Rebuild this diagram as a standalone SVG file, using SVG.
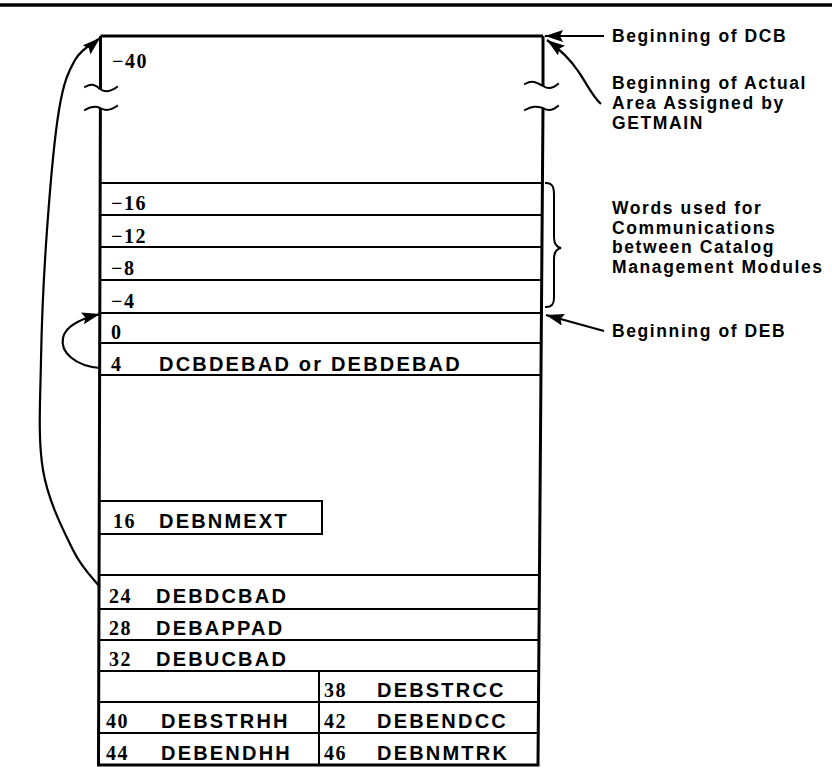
<svg xmlns="http://www.w3.org/2000/svg" width="832" height="775" viewBox="0 0 832 775">
<defs>
<style>
.ln{stroke:#000;stroke-width:2;fill:none;stroke-linecap:square}
.ob{stroke:#000;stroke-width:3;fill:none}
.cn{stroke:#000;stroke-width:2.2;fill:none}
.num{font-family:"Liberation Serif","Times New Roman",serif;font-weight:bold;font-size:20px;letter-spacing:1.5px;fill:#000}
.fld{font-family:"Liberation Sans",Arial,sans-serif;font-weight:bold;font-size:20px;letter-spacing:2.2px;fill:#000}
.lbl{font-family:"Liberation Sans",Arial,sans-serif;font-weight:bold;font-size:17.5px;letter-spacing:1.6px;fill:#000}
</style>
<marker id="ah" viewBox="0 0 18 12" refX="18" refY="6" markerWidth="18" markerHeight="12" markerUnits="userSpaceOnUse" orient="auto">
<path d="M0,0 L18,6 L0,12 L3,6 z" fill="#000"/>
</marker>
</defs>
<rect width="832" height="775" fill="#fff"/>
<line x1="0" y1="5" x2="832" y2="5" stroke="#000" stroke-width="3.5"/>

<g id="dcb-area">
<path class="ob" d="M100.5,36 L543,36"/>
<path class="ob" d="M100.5,36 L100.5,89"/>
<path class="ob" d="M543,36 L543,86"/>
<path class="ln" d="M85,87 C92,83 96,85 100,89 C105,93 110,92 117,87"/>
<path class="ln" d="M85,110 C92,106 96,106 100,108 C105,111 110,111 117,106"/>
<path class="ln" d="M525,84 C532,80 536,82 543,86 C548,89 552,89 558,84"/>
<path class="ln" d="M525,110 C532,106 536,106 543,108 C548,111 552,111 558,106"/>
<path class="ob" d="M100.4,108 L98.5,765 L538,765 L543,108"/>
<text class="num" x="112" y="68">−40</text>
</g>

<g id="comm-words">
<line class="ln" x1="100" y1="183" x2="542" y2="183"/>
<line class="ln" x1="100" y1="215" x2="541.8" y2="215"/>
<line class="ln" x1="100" y1="247" x2="541.6" y2="247"/>
<line class="ln" x1="100" y1="280" x2="541.3" y2="280"/>
<text class="num" x="111" y="210">−16</text>
<text class="num" x="111" y="243">−12</text>
<text class="num" x="111" y="275">−8</text>
<text class="num" x="111" y="308">−4</text>
</g>

<g id="deb-0">
<line class="ln" x1="99.7" y1="313" x2="541.1" y2="313"/>
<text class="num" x="111" y="339">0</text>
</g>
<g id="deb-4">
<line class="ln" x1="99.7" y1="343" x2="540.9" y2="343"/>
<line class="ln" x1="99.6" y1="375" x2="540.7" y2="375"/>
<text class="num" x="111" y="371">4</text>
<text class="fld" x="159" y="371">DCBDEBAD or DEBDEBAD</text>
</g>

<g id="deb-16">
<path class="ln" d="M99.2,501 L322,501 L322,534 L99.2,534"/>
<text class="num" x="113" y="528">16</text>
<text class="fld" x="159" y="528">DEBNMEXT</text>
</g>

<g id="deb-24">
<line class="ln" x1="99" y1="575" x2="539.3" y2="575"/>
<line class="ln" x1="98.9" y1="609" x2="539.1" y2="609"/>
<text class="num" x="109" y="603">24</text>
<text class="fld" x="156" y="603">DEBDCBAD</text>
</g>
<g id="deb-28">
<line class="ln" x1="98.8" y1="640" x2="538.9" y2="640"/>
<text class="num" x="109" y="635">28</text>
<text class="fld" x="156" y="635">DEBAPPAD</text>
</g>
<g id="deb-32">
<line class="ln" x1="98.8" y1="671" x2="538.6" y2="671"/>
<text class="num" x="109" y="666">32</text>
<text class="fld" x="156" y="666">DEBUCBAD</text>
</g>
<g id="deb-38">
<line class="ln" x1="98.7" y1="702" x2="538.4" y2="702"/>
<line class="ln" x1="319" y1="671" x2="319" y2="765"/>
<text class="num" x="324" y="697">38</text>
<text class="fld" x="377" y="697">DEBSTRCC</text>
</g>
<g id="deb-40">
<line class="ln" x1="98.6" y1="733" x2="538.2" y2="733"/>
<text class="num" x="106" y="728">40</text>
<text class="fld" x="161" y="728">DEBSTRHH</text>
</g>
<g id="deb-42">
<text class="num" x="324" y="728">42</text>
<text class="fld" x="377" y="728">DEBENDCC</text>
</g>
<g id="deb-44">
<text class="num" x="106" y="760">44</text>
<text class="fld" x="161" y="760">DEBENDHH</text>
</g>
<g id="deb-46">
<text class="num" x="324" y="760">46</text>
<text class="fld" x="377" y="760">DEBNMTRK</text>
</g>

<g id="brace">
<path class="ln" d="M546,183 C553,183 554,188 554,195 L554,237 C554,243 556,247 561,248 C556,249 554,253 554,259 L554,298 C554,304 552,307 546,307"/>
</g>

<g id="label-dcb"><text class="lbl" x="612" y="42">Beginning of DCB</text></g>
<g id="label-actual">
<text class="lbl" x="612" y="89">Beginning of Actual</text>
<text class="lbl" x="612" y="109">Area Assigned by</text>
<text class="lbl" x="612" y="129">GETMAIN</text>
</g>
<g id="label-words">
<text class="lbl" x="612" y="214">Words used for</text>
<text class="lbl" x="612" y="233.6">Communications</text>
<text class="lbl" x="612" y="253.2">between Catalog</text>
<text class="lbl" x="612" y="272.8">Management Modules</text>
</g>
<g id="label-deb"><text class="lbl" x="612" y="337">Beginning of DEB</text></g>

<g id="connectors">
<path class="cn" d="M604,36 L545,36" marker-end="url(#ah)"/>
<path class="cn" d="M601,104 C592,96 586,82 578,71 C572,62 565,53 547,40" marker-end="url(#ah)"/>
<path class="cn" d="M604,331 L546,315" marker-end="url(#ah)"/>
<path class="cn" d="M100,368 C75,366 60,352 63,338 C65,327 80,319 100,314" marker-end="url(#ah)"/>
<path class="cn" d="M100,587 C95.5,580.8 82.5,569.5 73,550 C63.5,530.5 48.3,501.7 43,470 C37.7,438.3 40.3,400 41,360 C41.7,320 44,271.7 47,230 C50,188.3 54.3,138.3 59,110 C63.7,81.7 68.2,72 75,60 C81.8,48 95.8,41.7 100,38" marker-end="url(#ah)"/>
</g>
</svg>
